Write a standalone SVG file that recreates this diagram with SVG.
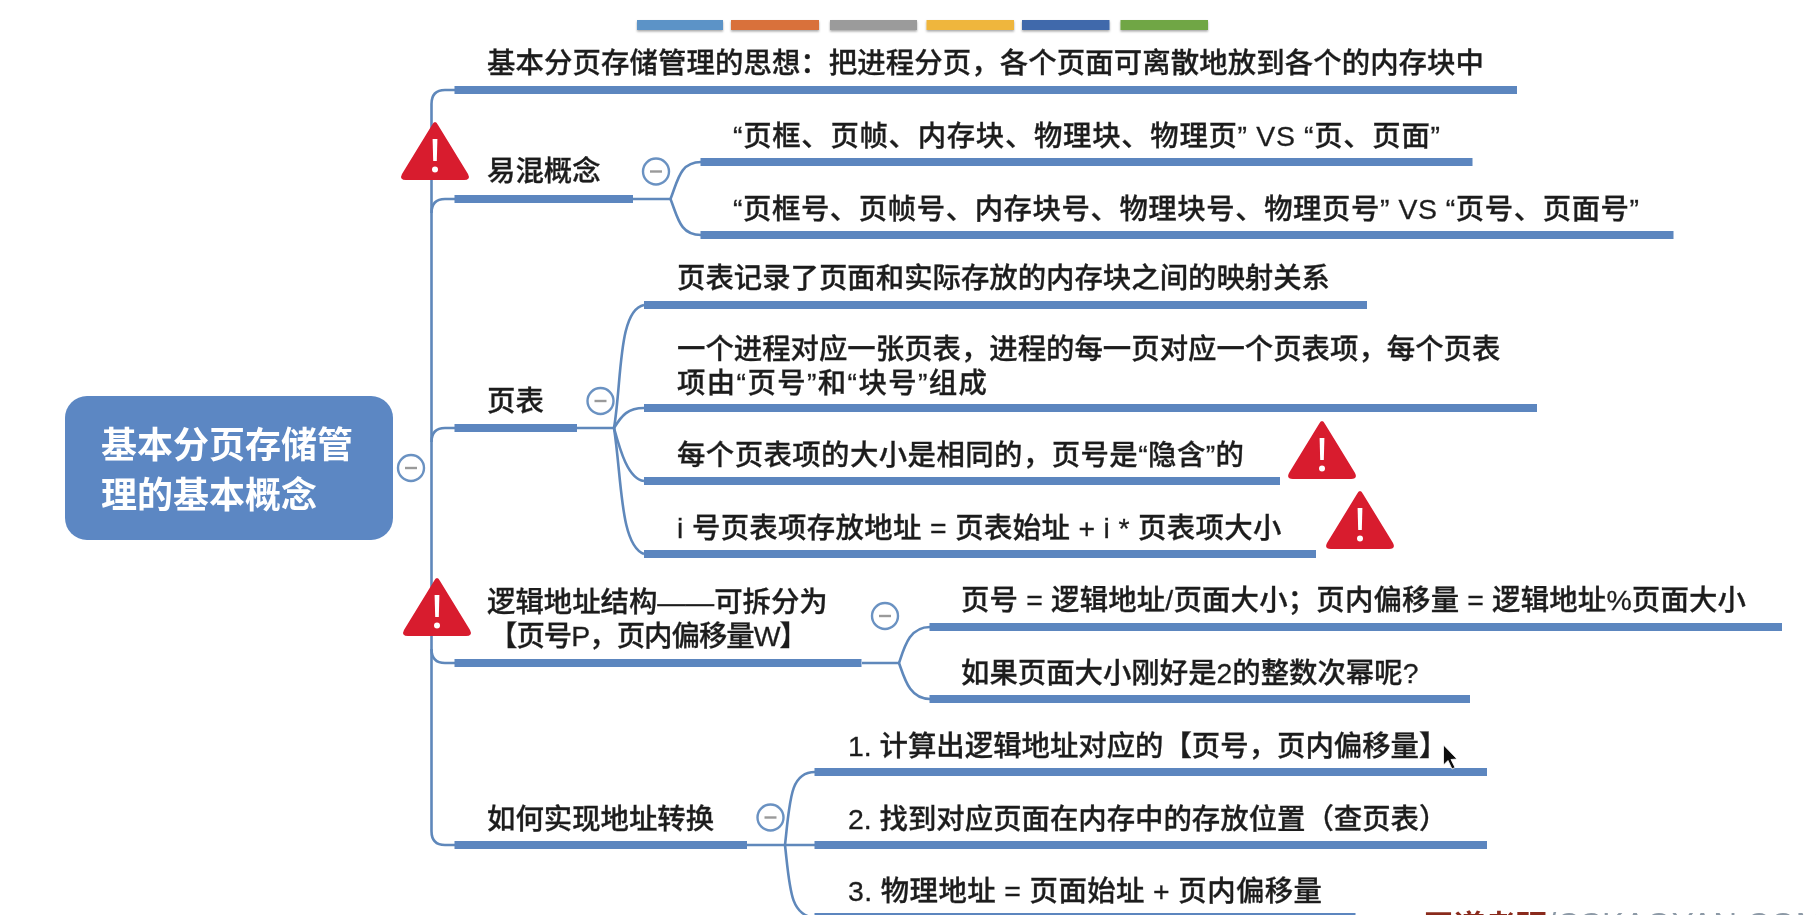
<svg xmlns="http://www.w3.org/2000/svg" xmlns:xlink="http://www.w3.org/1999/xlink" width="1816" height="915" viewBox="0 0 1816 915">
<style>
text{font-family:"Liberation Sans","Noto Sans CJK SC",sans-serif;font-size:28.4px;fill:#1e1e1e;font-weight:500;stroke:#1e1e1e;stroke-width:.3}
.root{font-size:36px;font-weight:700;fill:#fff;stroke:none}
.bar{fill:#5b86bf}
.conn{fill:none;stroke:#5f88bb;stroke-width:2.6}
.fold{fill:#fff;stroke:#6b92c2;stroke-width:2.4}
.minus{stroke:#9a9a9a;stroke-width:2.4}
</style>
<defs>
<filter id="soft" x="-2%" y="-2%" width="104%" height="104%"><feGaussianBlur stdDeviation="0.55"/></filter>
<filter id="sh" x="-5%" y="-20%" width="110%" height="160%"><feDropShadow dx="0" dy="1.5" stdDeviation="1.2" flood-color="#000" flood-opacity=".35"/></filter>
<g id="warn">
<path d="M34 0 Q35.5 0 37 3 L67 52 Q70 58 63 58 L5 58 Q-2 58 1 52 L31 3 Q32.5 0 34 0Z" fill="#d81a2e"/>
<path d="M31.600 17 h4.800 l-.6 22 h-3.600z" fill="#fff"/>
<circle cx="34" cy="47.500" r="3" fill="#fff"/>
</g>
</defs>
<rect width="1816" height="915" fill="#fff"/>
<g filter="url(#soft)">
<g id="palette">
<rect x="637" y="20" width="86" height="10" fill="#5b93c7" filter="url(#sh)"/>
<rect x="731" y="20" width="88" height="10" fill="#d9713a" filter="url(#sh)"/>
<rect x="830" y="20" width="87" height="10" fill="#9b9b9b" filter="url(#sh)"/>
<rect x="926.500" y="20" width="87.500" height="10" fill="#efb63c" filter="url(#sh)"/>
<rect x="1022" y="20" width="87.500" height="10" fill="#3f69ab" filter="url(#sh)"/>
<rect x="1120.500" y="20" width="87.500" height="10" fill="#6fa644" filter="url(#sh)"/>
</g>
<g id="connectors">
<path class="conn" d="M455 90 H445 Q431.500 90 431.500 104 V831 Q431.500 845 445 845 H455"/>
<path class="conn" d="M455 199 H445 Q431.500 199 431.500 213"/>
<path class="conn" d="M455 428 H445 Q431.500 428 431.500 442"/>
<path class="conn" d="M455 663 H445 Q431.500 663 431.500 649"/>
<path class="conn" d="M633 199 H670.500"/>
<path class="conn" d="M701 162 C680 162 678 180 670.500 199 C678 218 680 235 701 235"/>
<path class="conn" d="M577 428 H614"/>
<path class="conn" d="M644 305 C618 310 622 380 614 428"/>
<path class="conn" d="M644 408 C628 408 622 415 614 428"/>
<path class="conn" d="M644 481 C628 479 620 450 614 428"/>
<path class="conn" d="M644 554 C620 545 622 480 614 428"/>
<path class="conn" d="M862 663 H899"/>
<path class="conn" d="M930 627 C910 627 905 645 899 663 C905 680 910 699 930 699"/>
<path class="conn" d="M747 845 H815"/>
<path class="conn" d="M815 772 C790 772 790 800 785 845"/>
<path class="conn" d="M815 918 C790 915 790 890 785 845"/>
</g>
<g id="root">
<rect x="65" y="396" width="328" height="144" rx="22" fill="#5b87c3"/>
<text class="root" x="101" y="458">基本分页存储管</text>
<text class="root" x="101" y="508">理的基本概念</text>
<circle class="fold" cx="411" cy="468" r="13"/><path class="minus" d="M405 468h12"/>
</g>
<g id="n1">
<rect class="bar" x="454.500" y="86" width="1062.500" height="8"/>
<text x="487" y="73" textLength="997">基本分页存储管理的思想：把进程分页，各个页面可离散地放到各个的内存块中</text>
</g>
<g id="n2">
<rect class="bar" x="454.500" y="195" width="178.500" height="8"/>
<text x="487" y="181">易混概念</text>
<circle class="fold" cx="656" cy="171.500" r="13"/><path class="minus" d="M650 171.500h12"/>
<use href="#warn" x="401" y="122"/>
</g>
<g id="n2a">
<rect class="bar" x="700.500" y="158" width="772" height="8"/>
<text x="733" y="146" textLength="707">“页框、页帧、内存块、物理块、物理页” VS “页、页面”</text>
</g>
<g id="n2b">
<rect class="bar" x="700.500" y="231" width="973" height="8"/>
<text x="733" y="219" textLength="906">“页框号、页帧号、内存块号、物理块号、物理页号” VS “页号、页面号”</text>
</g>
<g id="n3">
<rect class="bar" x="454.500" y="424" width="122.500" height="8"/>
<text x="487" y="411">页表</text>
<circle class="fold" cx="600.500" cy="401" r="13"/><path class="minus" d="M594.500 401h12"/>
</g>
<g id="n3a">
<rect class="bar" x="644" y="301" width="723" height="8"/>
<text x="677" y="288">页表记录了页面和实际存放的内存块之间的映射关系</text>
</g>
<g id="n3b">
<rect class="bar" x="644" y="404" width="893" height="8"/>
<text x="677" y="359">一个进程对应一张页表，进程的每一页对应一个页表项，每个页表</text>
<text x="677" y="393" textLength="310">项由“页号”和“块号”组成</text>
</g>
<g id="n3c">
<rect class="bar" x="644" y="477" width="636" height="8"/>
<text x="677" y="465" textLength="567">每个页表项的大小是相同的，页号是“隐含”的</text>
<use href="#warn" x="1288" y="421"/>
</g>
<g id="n3d">
<rect class="bar" x="644" y="550" width="672" height="8"/>
<text x="677" y="538" textLength="604.500">i 号页表项存放地址 = 页表始址 + i * 页表项大小</text>
<use href="#warn" x="1326" y="491"/>
</g>
<g id="n4">
<rect class="bar" x="454.500" y="659" width="407" height="8"/>
<text x="487" y="612">逻辑地址结构——可拆分为</text>
<text x="489" y="646" textLength="319">【页号P，页内偏移量W】</text>
<circle class="fold" cx="885" cy="616" r="13"/><path class="minus" d="M879 616h12"/>
<use href="#warn" x="403" y="578"/>
</g>
<g id="n4a">
<rect class="bar" x="929.500" y="623" width="852.500" height="8"/>
<text x="961" y="610" textLength="785">页号 = 逻辑地址/页面大小；页内偏移量 = 逻辑地址%页面大小</text>
</g>
<g id="n4b">
<rect class="bar" x="929.500" y="695" width="540.500" height="8"/>
<text x="961" y="683">如果页面大小刚好是2的整数次幂呢?</text>
</g>
<g id="n5">
<rect class="bar" x="454.500" y="841" width="292.500" height="8"/>
<text x="487" y="829">如何实现地址转换</text>
<circle class="fold" cx="770.500" cy="817.500" r="13"/><path class="minus" d="M764.500 817.500h12"/>
</g>
<g id="n5a">
<rect class="bar" x="814.500" y="768" width="672.500" height="8"/>
<text x="848" y="756">1. 计算出逻辑地址对应的【页号，页内偏移量】</text>
</g>
<g id="n5b">
<rect class="bar" x="814.500" y="841" width="672.500" height="8"/>
<text x="848" y="829">2. 找到对应页面在内存中的存放位置（查页表）</text>
</g>
<g id="n5c">
<rect class="bar" x="814.500" y="913" width="541" height="8"/>
<text x="848" y="901" textLength="474">3. 物理地址 = 页面始址 + 页内偏移量</text>
</g>
<path id="cursor" d="M1443.500 745 V765 L1448 760.500 L1452 769 L1455 767.500 L1451 759.500 L1457 759Z" fill="#111" stroke="#fff" stroke-width=".8"/>
<text id="watermark" x="1423" y="937" style="font-size:31px;fill:#8a2c1c;stroke:none;font-weight:700">王道考研<tspan y="936" style="font-size:33px;fill:#8c99a6;font-weight:500">/CSKAOYAN.COM</tspan></text>
</g>
</svg>
